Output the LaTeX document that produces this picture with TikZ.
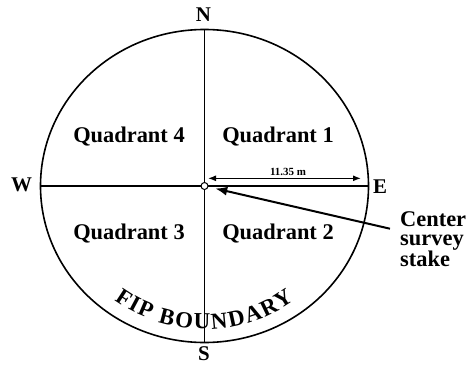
\documentclass[tikz,border=0pt]{standalone}
\usepackage{fontspec}
\setmainfont{Liberation Serif}
\usetikzlibrary{arrows.meta,decorations.text}

\begin{document}
\begin{tikzpicture}[
    x=1bp, y=1bp,
    quadrant/.style={font=\fontsize{22.5}{22.5}\selectfont\bfseries, inner sep=0pt, anchor=base},
    compass/.style={font=\fontsize{21}{21}\selectfont\bfseries, inner sep=0pt, anchor=base},
    boundary/.style={line width=1.6bp},
    stakedot/.style={circle, draw, fill=white, line width=1bp, minimum size=7bp, inner sep=0pt},
    dimarrow/.style={{Latex[length=8bp, width=6bp]}-{Latex[length=8bp, width=6bp]}, line width=1.3bp},
    pointer/.style={-{Latex[length=12bp, width=9bp]}, line width=2bp}
]
    \useasboundingbox (0,0) rectangle (467,364);
    \coordinate (c) at (204.5,178);

    % Plot boundary and axes
    \draw[boundary] (c) ellipse [x radius=164, y radius=156.5];
    \coordinate (top) at (204.5,334.5);
    \coordinate (bottom) at (204.5,21.5);
    \coordinate (left) at (40.5,178);
    \coordinate (right) at (368.5,178);
    \draw[boundary] (top) -- (bottom);
    \draw[boundary] (left) -- (right);

    % Compass points
    \node[compass] (north) at (203.5,342.5) {N};
    \node[compass] (south) at (204,4) {S};
    \node[compass] (west) at (21.5,172.5) {W};
    \node[compass] (east) at (380,171) {E};

    % Quadrants
    \node[quadrant] (q4) at (129,221.5) {Quadrant 4};
    \node[quadrant] (q1) at (278,221.5) {Quadrant 1};
    \node[quadrant] (q3) at (129,125) {Quadrant 3};
    \node[quadrant] (q2) at (278,125) {Quadrant 2};

    % Radius
    \coordinate (dimstart) at (208,185.7);
    \coordinate (dimend) at (361,185.7);
    \draw[dimarrow] (dimstart) -- (dimend);
    \node[font=\fontsize{11}{11}\selectfont\bfseries, inner sep=0pt] (radius) at (288,192.5) {11.35 m};

    % Center stake
    \node[stakedot] (stake) at (c) {};
    \coordinate (pointertail) at (390,135.3);
    \draw[pointer, shorten >=7bp] (pointertail) -- (stake);
    \node[font=\fontsize{22.5}{18.5}\selectfont\bfseries, inner sep=0pt, align=left, anchor=north west]
        (stakelabel) at (400,152.3) {Center\\survey\\stake};

    % Boundary label
    \path[decorate, decoration={text along path, text align=fit to path,
        text={|\fontsize{23}{23}\selectfont\bfseries|FIP BOUNDARY}}]
        ([shift={(233:150 and 143)}]c) arc[start angle=233, end angle=307, x radius=150, y radius=143];
\end{tikzpicture}
\end{document}
